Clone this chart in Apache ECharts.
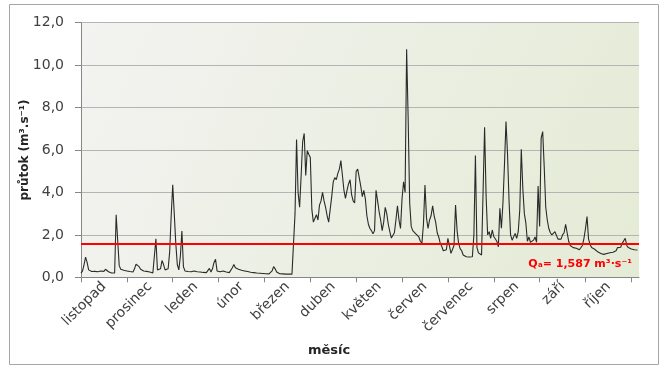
<!DOCTYPE html>
<html><head><meta charset="utf-8">
<script src="https://cdn.jsdelivr.net/npm/echarts@6/dist/echarts.min.js"></script>
<style>html,body{margin:0;padding:0;background:#fff}#c{width:667px;height:369px}</style>
</head><body><div id="c"></div>
<script>
const months = ['listopad','prosinec','leden','únor','březen','duben','květen','červen','červenec','srpen','září','říjen'];
const yTickLabels = ['0,0','2,0','4,0','6,0','8,0','10,0','12,0'];
const Qa = 1.587;
const QaLabel = 'Qₐ= 1,587 m³·s⁻¹';
// daily discharge, hydrological year
const nov = [0.2,0.3,0.6,0.95,0.7,0.35,0.28,0.27,0.26,0.28,0.25,0.26,0.33,0.3,0.27,0.28,0.38,0.3,0.26,0.22,0.2,0.19,0.2,2.95,2.97,0.55,0.38,0.35,0.33,0.3];
const dec = [0.3,0.28,0.27,0.26,0.25,0.4,0.62,0.66,0.5,0.38,0.33,0.3,0.3,0.28,0.27,0.25,0.22,0.2,0.19,1.81,0.35,0.3,0.4,0.79,0.6,0.35,0.3,0.4,1.2,2.9,4.36];
const jan = [3.0,1.6,0.6,0.35,1.0,2.18,0.5,0.3,0.28,0.27,0.27,0.26,0.28,0.3,0.27,0.26,0.25,0.25,0.24,0.23,0.22,0.22,0.3,0.42,0.25,0.4,0.7,0.85,0.3,0.27,0.26];
const feb = [0.25,0.3,0.33,0.25,0.23,0.22,0.3,0.45,0.6,0.45,0.42,0.38,0.35,0.33,0.32,0.3,0.28,0.27,0.25,0.24,0.23,0.22,0.21,0.2,0.19,0.19,0.18,0.18];
const mar = [0.18,0.17,0.17,0.16,0.17,0.3,0.5,0.4,0.25,0.19,0.17,0.16,0.16,0.15,0.15,0.15,0.15,0.15,0.15,0.16,3.0,6.5,4.0,3.3,4.8,6.4,6.78,4.8,5.97,5.8,5.65];
const apr = [3.2,2.6,2.55,2.95,2.7,3.4,3.6,4.0,3.6,3.3,2.9,2.6,3.2,3.8,4.5,4.7,4.6,4.9,5.1,5.5,4.8,4.1,3.72,4.1,4.4,4.6,3.9,3.6,3.5,5.0];
const may = [5.1,5.15,4.3,3.8,4.1,3.7,2.9,2.5,2.3,2.2,2.05,2.2,4.1,3.6,3.1,2.7,2.2,2.6,3.3,3.0,2.5,2.15,1.85,1.76,2.1,2.7,3.37,2.7,2.3,3.7,4.5];
const jun = [4.0,10.75,7.5,3.5,2.4,2.2,2.15,2.05,2.0,1.9,1.7,1.6,2.5,4.35,2.8,2.3,2.7,2.9,3.37,2.9,2.6,2.1,1.9,1.6,1.45,1.25,1.16,1.3,1.84,1.9];
const jul = [1.13,1.13,1.5,3.41,2.2,1.6,1.35,1.25,1.05,1.0,0.97,0.97,0.96,0.96,0.97,2.0,5.74,1.4,1.15,1.1,1.05,4.0,7.07,3.8,2.0,2.15,1.84,2.23,1.92,2.0,1.7];
const aug = [1.44,3.25,2.31,3.49,5.3,7.34,5.8,3.6,2.0,1.75,1.68,2.07,1.84,2.15,3.17,6.03,4.2,3.0,2.55,1.7,1.9,1.65,1.6,1.75,1.9,1.65,4.3,2.4,6.56,6.87,5.2];
const sep = [3.3,2.7,2.3,2.1,2.0,2.0,2.15,2.1,1.8,1.72,1.8,2.0,2.1,2.5,2.55,1.7,1.5,1.44,1.4,1.38,1.37,1.33,1.3,1.35,1.5,1.84,2.3,2.86,1.8,1.55];
const oct = [1.4,1.37,1.32,1.25,1.2,1.15,1.12,1.1,1.08,1.1,1.12,1.15,1.16,1.16,1.18,1.2,1.25,1.4,1.38,1.42,1.6,1.65,1.84,1.5,1.4,1.37,1.33,1.3,1.3,1.29,1.29];

const flow = [].concat(nov,dec,jan,feb,mar,apr,may,jun,jul,aug,sep,oct);
const nDays = flow.length;
const period = 30;
const tickDays = [];
for (let i = 0; i <= 12; i++) tickDays.push(i * period);
const labelDays = months.map((m, i) => i * period + period / 2);

const chart = echarts.init(document.getElementById('c'), null, {renderer: 'canvas'});
const font = 'DejaVu Sans';
chart.setOption({
  animation: false,
  backgroundColor: '#ffffff',
  grid: {
    left: 81, right: 28, top: 22.7, bottom: 91.7, show: true, borderWidth: 0,
    backgroundColor: new echarts.graphic.LinearGradient(0, 0, 1, 1, [
      {offset: 0, color: '#f3f3f1'}, {offset: 1, color: '#e4ebd5'}
    ])
  },
  xAxis: {
    type: 'value', min: 0, max: nDays,
    axisLine: {show: true, lineStyle: {color: '#868686', width: 1}},
    axisTick: {show: true, customValues: tickDays, length: 5, lineStyle: {color: '#868686'}},
    axisLabel: {
      customValues: labelDays,
      formatter: v => months[labelDays.indexOf(v)] || '',
      rotate: 45, margin: 7, fontSize: 14, color: '#404040', fontFamily: font
    },
    splitLine: {show: false}
  },
  yAxis: {
    type: 'value', min: 0, max: 12, interval: 2,
    axisLine: {show: true, lineStyle: {color: '#868686'}},
    axisTick: {show: true, length: 6, lineStyle: {color: '#868686'}},
    axisLabel: {formatter: v => yTickLabels[Math.round(v / 2)], fontSize: 14, color: '#404040', fontFamily: font, margin: 17},
    splitLine: {show: true, lineStyle: {color: '#b4b4b4', width: 1}},
    name: 'průtok (m³.s⁻¹)', nameLocation: 'middle', nameGap: 50, nameRotate: 90, nameMoveOverlap: false,
    nameTextStyle: {fontWeight: 'bold', fontSize: 12, color: '#262626', fontFamily: font}
  },
  graphic: [
    {type: 'rect', shape: {x: 9.5, y: 4.5, width: 649, height: 360}, style: {fill: 'none', stroke: '#a6a6a6', lineWidth: 1}, z: 100},
    {type: 'text', left: 308, top: 344, style: {text: 'měsíc', font: 'bold 13px "DejaVu Sans"', fill: '#262626'}}
  ],
  series: [{
    type: 'line',
    data: flow.map((v, i) => [i, v]),
    showSymbol: false, symbol: 'none',
    lineStyle: {color: '#2a2a2a', width: 1.1},
    z: 3,
    markLine: {
      silent: true, symbol: 'none',
      lineStyle: {color: '#ff0000', width: 2, type: 'solid'},
      data: [{yAxis: Qa}],
      label: {
        show: true, formatter: QaLabel, position: 'insideEndBottom',
        color: '#ff0000', fontWeight: 'bold', fontSize: 11, fontFamily: font, distance: [7, 15]
      }
    }
  }]
});
</script></body></html>
